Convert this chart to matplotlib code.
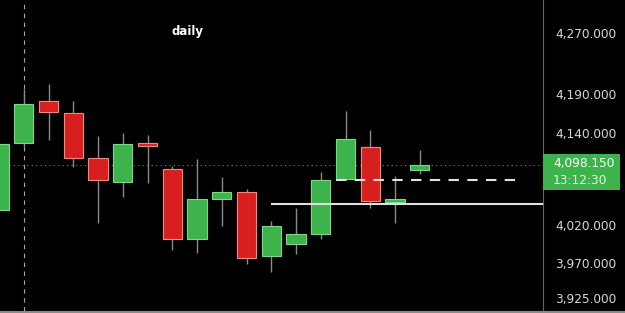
import matplotlib.pyplot as plt
from matplotlib.patches import Rectangle

# daily candles (open, high, low, close)
opens  = [4039.5, 4126.8, 4181.5, 4165.8, 4107.3, 4076.0, 4126.8, 4092.9, 4001.8,
          4053.9, 4063.0, 3979.7, 3995.3, 4008.3, 4079.9, 4121.6, 4050.0, 4091.6]
highs  = [4130.0, 4197.1, 4203.6, 4181.5, 4135.9, 4139.8, 4137.2, 4096.8, 4105.9,
          4082.5, 4066.9, 4025.2, 4042.2, 4089.0, 4168.4, 4143.7, 4083.8, 4117.7]
lows   = [4035.0, 4121.6, 4130.7, 4095.5, 4022.6, 4056.5, 4074.7, 3987.5, 3983.6,
          4018.7, 3969.2, 3958.8, 3982.3, 4001.8, 4078.6, 4042.2, 4022.6, 4086.4]
closes = [4125.5, 4177.6, 4167.1, 4107.3, 4078.6, 4125.5, 4122.9, 4001.8, 4053.9,
          4063.0, 3977.0, 4018.7, 4008.3, 4078.6, 4132.0, 4051.3, 4053.9, 4098.15]

yticks = [4270, 4190, 4140, 4020, 3970, 3925]
last_price = 4098.15
countdown = "13:12:30"
support = 4047.4
dashed_level = 4078.6

green = "#3cb44b"
green_edge = "#7ed88a"
red = "#d81f1f"
red_edge = "#f28a80"
wick = "#8a8a8a"
txt = "#d8d8d8"

fig = plt.figure(figsize=(6.25, 3.13), dpi=100, facecolor="black")
ax = fig.add_axes([0, 2 / 313, 543 / 625, 311 / 313])
ax.set_facecolor("black")

step = 24.75
ax.set_xlim(1 / step, 544 / step)
ax.set_ylim(3908, 4313)

w = 0.77
for i, (o, h, l, c) in enumerate(zip(opens, highs, lows, closes)):
    up = c >= o
    ax.vlines(i, l, h, color=wick, lw=1, zorder=2)
    ax.add_patch(Rectangle((i - w / 2, min(o, c)), w, max(abs(c - o), 1.5),
                           facecolor=green if up else red,
                           edgecolor=green_edge if up else red_edge,
                           lw=0.8, zorder=3))

# levels
ax.axhline(last_price, color="#777777", lw=0.8, ls=(0, (1, 3)), zorder=1)
ax.hlines(support, 11, 22, color="#e0e0e0", lw=1.5, zorder=4)
ax.hlines(dashed_level, 13.6, 20.85, color="#e0e0e0", lw=1.5, ls=(0, (5, 4)), zorder=4)
ax.axvline(1, color="#aaaaaa", lw=0.8, ls=(0, (4, 4)), zorder=1)

ax.text(7.6, 4272, "daily", color="white", fontsize=8.5, fontweight="bold",
        ha="center", va="center")

for s in ["top", "left"]:
    ax.spines[s].set_visible(False)
ax.spines["right"].set_color("#666666")
ax.spines["bottom"].set_visible(False)
ax.set_xticks([])
ax.yaxis.tick_right()
ax.set_yticks(yticks)
ax.set_yticklabels([f"{v:,.3f}" for v in yticks])
ax.tick_params(axis="y", length=0, colors=txt, labelsize=8.7, pad=9)

# bottom border runs under the price scale too
fig.add_artist(plt.Line2D([0, 1], [1.5 / 313, 1.5 / 313], color="#8a8a8a",
                          lw=1.5, transform=fig.transFigure))

# current price tag
fig.patches.append(Rectangle((543 / 625, (313 - 190) / 313), 77 / 625, 36 / 313,
                             transform=fig.transFigure, facecolor=green,
                             edgecolor="none", zorder=5))
fig.text(553 / 625, (313 - 163) / 313, f"{last_price:,.3f}", color="white",
         fontsize=8.7, va="center", ha="left", zorder=6)
fig.text(553 / 625, (313 - 180) / 313, countdown, color="#e8f5e8",
         fontsize=8.7, va="center", ha="left", zorder=6)

fig.savefig("out.png", dpi=100, facecolor="black")
